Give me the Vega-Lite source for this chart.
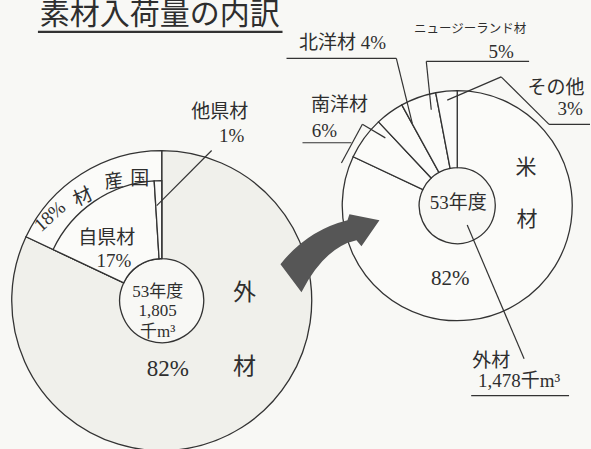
{
  "$schema": "https://vega.github.io/schema/vega-lite/v6.json",
  "width": 591,
  "height": 449,
  "autosize": {"type": "fit", "contains": "padding"},
  "padding": 0,
  "background": "#f8f8f5",
  "config": {"view": {"stroke": null}},
  "datasets": {
    "slices": [
      {"chart": "全体", "ring": "外側", "seg": "外材", "pct": 82, "ord": 1},
      {"chart": "全体", "ring": "外側", "seg": "国産材", "pct": 18, "ord": 2},
      {"chart": "全体", "ring": "内側", "seg": "外材", "pct": 82, "ord": 1},
      {"chart": "全体", "ring": "内側", "seg": "自県材", "pct": 17, "ord": 2},
      {"chart": "全体", "ring": "内側", "seg": "他県材", "pct": 1, "ord": 3},
      {"chart": "外材", "ring": "外側", "seg": "米材", "pct": 82, "ord": 1},
      {"chart": "外材", "ring": "外側", "seg": "南洋材", "pct": 6, "ord": 2},
      {"chart": "外材", "ring": "外側", "seg": "北洋材", "pct": 4, "ord": 3},
      {"chart": "外材", "ring": "外側", "seg": "ニュージーランド材", "pct": 5, "ord": 4},
      {"chart": "外材", "ring": "外側", "seg": "その他", "pct": 3, "ord": 5}
    ],
    "labels": [
      {"role": "title", "t": "素材入荷量の内訳", "x": 160, "y": 14},
      {"role": "label", "t": "他県材", "x": 220, "y": 105},
      {"role": "label", "t": "1%", "x": 232, "y": 130},
      {"role": "label", "t": "自県材", "x": 107, "y": 235},
      {"role": "label", "t": "17%", "x": 114, "y": 259},
      {"role": "label", "t": "国", "x": 140, "y": 174},
      {"role": "band1", "t": "産", "x": 114, "y": 177},
      {"role": "band2", "t": "材", "x": 83, "y": 193},
      {"role": "band3", "t": "18%", "x": 50, "y": 213},
      {"role": "center", "t": "53年度", "x": 158, "y": 291},
      {"role": "center", "t": "1,805", "x": 158, "y": 311},
      {"role": "center", "t": "千m³", "x": 158, "y": 332},
      {"role": "big", "t": "外", "x": 245, "y": 292},
      {"role": "big", "t": "材", "x": 245, "y": 368},
      {"role": "big", "t": "82%", "x": 168, "y": 371},
      {"role": "label", "t": "北洋材 4%", "x": 343, "y": 34},
      {"role": "small", "t": "ニュージーランド材", "x": 471, "y": 20},
      {"role": "label", "t": "5%", "x": 502, "y": 43},
      {"role": "label", "t": "その他", "x": 557, "y": 81},
      {"role": "label", "t": "3%", "x": 571, "y": 102},
      {"role": "label", "t": "南洋材", "x": 340, "y": 98},
      {"role": "label", "t": "6%", "x": 325, "y": 125},
      {"role": "mid", "t": "米", "x": 527, "y": 163},
      {"role": "mid", "t": "材", "x": 528, "y": 217},
      {"role": "mid", "t": "82%", "x": 451, "y": 278},
      {"role": "center2", "t": "53年度", "x": 459, "y": 199},
      {"role": "label", "t": "外材", "x": 492, "y": 362},
      {"role": "label", "t": "1,478千m³", "x": 520, "y": 383}
    ],
    "leaders": [
      {"x": 38, "y": 22.5, "x2": 283, "y2": 22.5, "w": "title"},
      {"x": 212, "y": 145, "x2": 157, "y2": 202, "w": "line"},
      {"x": 287, "y": 50, "x2": 397, "y2": 50, "w": "line"},
      {"x": 397, "y": 50, "x2": 413, "y2": 117, "w": "line"},
      {"x": 427, "y": 53, "x2": 530, "y2": 53, "w": "line"},
      {"x": 427, "y": 53, "x2": 432, "y2": 103, "w": "line"},
      {"x": 550, "y": 118, "x2": 591, "y2": 118, "w": "line"},
      {"x": 550, "y": 118, "x2": 502, "y2": 69, "w": "line"},
      {"x": 502, "y": 69, "x2": 448, "y2": 93, "w": "line"},
      {"x": 303, "y": 137, "x2": 352, "y2": 137, "w": "line"},
      {"x": 342, "y": 158, "x2": 363, "y2": 118, "w": "line"},
      {"x": 363, "y": 118, "x2": 386, "y2": 132, "w": "line"},
      {"x": 468, "y": 222, "x2": 525, "y2": 360, "w": "line"},
      {"x": 472, "y": 398, "x2": 570, "y2": 398, "w": "line"}
    ]
  },
  "layer": [
    {
      "data": {"name": "slices"},
      "transform": [
        {"filter": "datum.chart === '全体' && datum.ring === '外側'"},
        {"stack": "pct", "groupby": [], "sort": [{"field": "ord", "order": "ascending"}], "as": ["t0", "t1"]}
      ],
      "mark": {"type": "arc", "radius": 150, "radius2": 42, "stroke": "#333333", "strokeWidth": 1.3},
      "encoding": {
        "x": {"datum": 162, "type": "quantitative", "scale": {"domain": [0, 591], "nice": false, "zero": false}, "axis": null},
        "y": {"datum": 300, "type": "quantitative", "scale": {"domain": [0, 449], "nice": false, "zero": false, "reverse": true}, "axis": null},
        "theta": {"field": "t0", "type": "quantitative", "stack": null, "scale": {"domain": [0, 100]}},
        "theta2": {"field": "t1"},
        "fill": {"condition": {"test": "datum.seg === '外材'", "value": "#f0f0eb"}, "value": "#fbfbf9"}
      }
    },
    {
      "data": {"name": "slices"},
      "transform": [
        {"filter": "datum.chart === '全体' && datum.ring === '内側'"},
        {"stack": "pct", "groupby": [], "sort": [{"field": "ord", "order": "ascending"}], "as": ["t0", "t1"]}
      ],
      "mark": {"type": "arc", "radius": 120, "radius2": 42, "stroke": "#333333", "strokeWidth": 1.3, "fill": "#fbfbf9"},
      "encoding": {
        "x": {"datum": 162, "type": "quantitative", "scale": {"domain": [0, 591], "nice": false, "zero": false}, "axis": null},
        "y": {"datum": 300, "type": "quantitative", "scale": {"domain": [0, 449], "nice": false, "zero": false, "reverse": true}, "axis": null},
        "theta": {"field": "t0", "type": "quantitative", "stack": null, "scale": {"domain": [0, 100]}},
        "theta2": {"field": "t1"},
        "fillOpacity": {"condition": {"test": "datum.seg === '外材'", "value": 0}, "value": 1},
        "strokeOpacity": {"condition": {"test": "datum.seg === '外材'", "value": 0}, "value": 1}
      }
    },
    {
      "data": {"name": "slices"},
      "transform": [
        {"filter": "datum.chart === '外材'"},
        {"stack": "pct", "groupby": [], "sort": [{"field": "ord", "order": "ascending"}], "as": ["t0", "t1"]}
      ],
      "mark": {"type": "arc", "radius": 115, "radius2": 38, "stroke": "#333333", "strokeWidth": 1.3, "fill": "#fbfbf9"},
      "encoding": {
        "x": {"datum": 458, "type": "quantitative", "scale": {"domain": [0, 591], "nice": false, "zero": false}, "axis": null},
        "y": {"datum": 202, "type": "quantitative", "scale": {"domain": [0, 449], "nice": false, "zero": false, "reverse": true}, "axis": null},
        "theta": {"field": "t0", "type": "quantitative", "stack": null, "scale": {"domain": [0, 100]}},
        "theta2": {"field": "t1"}
      }
    },
    {
      "data": {"values": [{"item": "矢印"}]},
      "mark": {"type": "point", "shape": "M-0.98,0.24 Q-0.44,-0.44 0.36,-0.64 L0.4,-0.76 L1,-0.64 L0.64,-0.12 L0.54,-0.24 Q-0.1,-0.1 -0.56,0.8 Z", "size": 10000, "filled": true, "fill": "#565656", "opacity": 1, "strokeWidth": 0},
      "encoding": {
        "x": {"datum": 330, "type": "quantitative", "scale": {"domain": [0, 591], "nice": false, "zero": false}, "axis": null},
        "y": {"datum": 250, "type": "quantitative", "scale": {"domain": [0, 449], "nice": false, "zero": false, "reverse": true}, "axis": null}
      }
    },
    {
      "data": {"name": "leaders"},
      "transform": [{"filter": "datum.w === 'line'"}],
      "mark": {"type": "rule", "stroke": "#333333", "strokeWidth": 1.2},
      "encoding": {
        "x": {"field": "x", "type": "quantitative", "scale": {"domain": [0, 591], "nice": false, "zero": false}, "axis": null},
        "y": {"field": "y", "type": "quantitative", "scale": {"domain": [0, 449], "nice": false, "zero": false, "reverse": true}, "axis": null},
        "x2": {"field": "x2"},
        "y2": {"field": "y2"}
      }
    },
    {
      "data": {"name": "leaders"},
      "transform": [{"filter": "datum.w === 'title'"}],
      "mark": {"type": "rule", "stroke": "#333333", "strokeWidth": 2.2},
      "encoding": {
        "x": {"field": "x", "type": "quantitative", "axis": null},
        "y": {"field": "y", "type": "quantitative", "axis": null},
        "x2": {"field": "x2"},
        "y2": {"field": "y2"}
      }
    },
    {
      "data": {"name": "labels"},
      "transform": [{"filter": "datum.role === 'title'"}],
      "mark": {"type": "text", "font": "Liberation Serif, Noto Sans CJK JP", "fontSize": 30, "align": "center", "baseline": "alphabetic", "fill": "#2e2e2e"},
      "encoding": {
        "x": {"field": "x", "type": "quantitative", "axis": null},
        "y": {"field": "y", "type": "quantitative", "axis": null},
        "text": {"field": "t"}
      }
    },
    {
      "data": {"name": "labels"},
      "transform": [{"filter": "datum.role === 'label'"}],
      "mark": {"type": "text", "font": "Liberation Serif, Noto Sans CJK JP", "fontSize": 19, "align": "center", "baseline": "middle", "fill": "#2e2e2e"},
      "encoding": {
        "x": {"field": "x", "type": "quantitative", "axis": null},
        "y": {"field": "y", "type": "quantitative", "axis": null},
        "text": {"field": "t"}
      }
    },
    {
      "data": {"name": "labels"},
      "transform": [{"filter": "datum.role === 'small'"}],
      "mark": {"type": "text", "font": "Noto Sans CJK JP", "fontSize": 12.5, "align": "center", "baseline": "middle", "fill": "#2e2e2e"},
      "encoding": {
        "x": {"field": "x", "type": "quantitative", "axis": null},
        "y": {"field": "y", "type": "quantitative", "axis": null},
        "text": {"field": "t"}
      }
    },
    {
      "data": {"name": "labels"},
      "transform": [{"filter": "datum.role === 'center'"}],
      "mark": {"type": "text", "font": "Liberation Serif, Noto Sans CJK JP", "fontSize": 17, "align": "center", "baseline": "middle", "fill": "#2e2e2e"},
      "encoding": {
        "x": {"field": "x", "type": "quantitative", "axis": null},
        "y": {"field": "y", "type": "quantitative", "axis": null},
        "text": {"field": "t"}
      }
    },
    {
      "data": {"name": "labels"},
      "transform": [{"filter": "datum.role === 'center2'"}],
      "mark": {"type": "text", "font": "Liberation Serif, Noto Sans CJK JP", "fontSize": 19, "align": "center", "baseline": "middle", "fill": "#2e2e2e"},
      "encoding": {
        "x": {"field": "x", "type": "quantitative", "axis": null},
        "y": {"field": "y", "type": "quantitative", "axis": null},
        "text": {"field": "t"}
      }
    },
    {
      "data": {"name": "labels"},
      "transform": [{"filter": "datum.role === 'big'"}],
      "mark": {"type": "text", "font": "Liberation Serif, Noto Sans CJK JP", "fontSize": 23, "align": "center", "baseline": "middle", "fill": "#2e2e2e"},
      "encoding": {
        "x": {"field": "x", "type": "quantitative", "axis": null},
        "y": {"field": "y", "type": "quantitative", "axis": null},
        "text": {"field": "t"}
      }
    },
    {
      "data": {"name": "labels"},
      "transform": [{"filter": "datum.role === 'mid'"}],
      "mark": {"type": "text", "font": "Liberation Serif, Noto Sans CJK JP", "fontSize": 21, "align": "center", "baseline": "middle", "fill": "#2e2e2e"},
      "encoding": {
        "x": {"field": "x", "type": "quantitative", "axis": null},
        "y": {"field": "y", "type": "quantitative", "axis": null},
        "text": {"field": "t"}
      }
    },
    {
      "data": {"name": "labels"},
      "transform": [{"filter": "datum.role === 'band1'"}],
      "mark": {"type": "text", "font": "Liberation Serif, Noto Sans CJK JP", "fontSize": 19, "align": "center", "baseline": "middle", "fill": "#2e2e2e", "angle": 352},
      "encoding": {
        "x": {"field": "x", "type": "quantitative", "axis": null},
        "y": {"field": "y", "type": "quantitative", "axis": null},
        "text": {"field": "t"}
      }
    },
    {
      "data": {"name": "labels"},
      "transform": [{"filter": "datum.role === 'band2'"}],
      "mark": {"type": "text", "font": "Liberation Serif, Noto Sans CJK JP", "fontSize": 19, "align": "center", "baseline": "middle", "fill": "#2e2e2e", "angle": 335},
      "encoding": {
        "x": {"field": "x", "type": "quantitative", "axis": null},
        "y": {"field": "y", "type": "quantitative", "axis": null},
        "text": {"field": "t"}
      }
    },
    {
      "data": {"name": "labels"},
      "transform": [{"filter": "datum.role === 'band3'"}],
      "mark": {"type": "text", "font": "Liberation Serif, Noto Sans CJK JP", "fontSize": 19, "align": "center", "baseline": "middle", "fill": "#2e2e2e", "angle": 318},
      "encoding": {
        "x": {"field": "x", "type": "quantitative", "axis": null},
        "y": {"field": "y", "type": "quantitative", "axis": null},
        "text": {"field": "t"}
      }
    }
  ]
}
